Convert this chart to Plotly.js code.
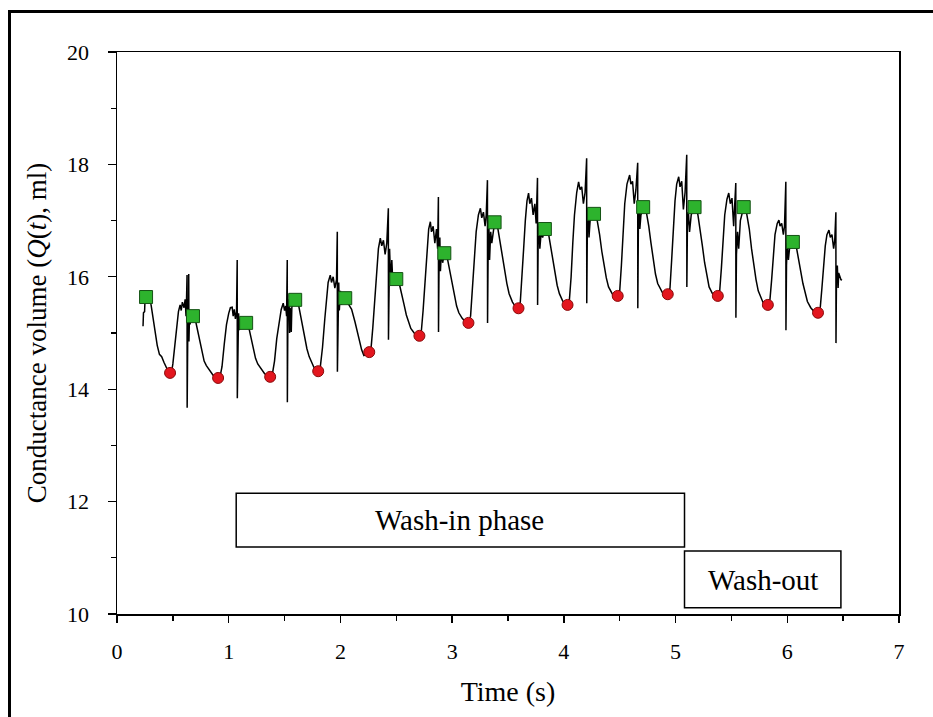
<!DOCTYPE html>
<html>
<head>
<meta charset="utf-8">
<script src="https://cdn.plot.ly/plotly-3.0.1.min.js"></script>
<style>
  html, body { margin: 0; padding: 0; background: #fff; }
  #chart { position: absolute; left: 0; top: 0; width: 933px; height: 717px; }
  #frame { position: absolute; left: 8px; top: 10px; width: 925px; height: 707px;
           border-top: 3px solid #000; border-left: 3px solid #000; pointer-events: none; }
</style>
</head>
<body>
<div id="chart"></div>
<div id="frame"></div>
<script>
// Conductance volume trace (time in s, volume in ml)
const traceTime = [
  0.233,0.237,0.247,0.250,0.262,0.290,0.300,
  0.305,0.320,0.340,0.360,0.380,0.400,0.420,0.440,0.460,0.475,
  0.490,0.500,0.520,0.535,0.550,0.565,
  0.575,0.585,0.600,0.610,0.618,0.622,0.627,0.628,0.632,0.636,0.640,0.642,0.644,0.650,0.655,0.660,0.668,0.681,0.695,0.705,
  0.720,0.740,0.760,0.780,0.800,0.830,0.860,0.885,0.905,
  0.925,0.940,0.960,0.980,1.000,1.015,1.031,
  1.040,1.050,1.060,1.070,1.076,1.077,1.082,1.088,1.095,1.105,1.120,1.135,1.156,1.175,1.185,
  1.200,1.220,1.240,1.260,1.290,1.320,1.350,1.371,
  1.390,1.410,1.430,1.450,1.470,1.488,
  1.500,1.510,1.518,1.524,1.525,1.530,1.540,1.545,1.550,1.560,1.565,1.575,1.595,1.615,1.625,
  1.640,1.660,1.680,1.700,1.720,1.740,1.760,1.780,1.801,
  1.820,1.840,1.860,1.875,1.890,1.909,
  1.920,1.935,1.950,1.965,1.972,1.973,1.978,1.985,1.990,2.000,2.010,2.020,2.043,2.060,2.070,
  2.100,2.130,2.160,2.190,2.210,2.235,2.258,
  2.275,2.290,2.310,2.325,2.340,2.357,
  2.370,2.385,2.400,2.415,2.429,2.430,2.435,2.440,2.450,2.460,2.470,2.480,2.500,2.520,2.530,
  2.550,2.570,2.590,2.610,2.630,2.660,2.685,2.707,
  2.725,2.740,2.760,2.775,2.790,2.805,
  2.815,2.830,2.845,2.860,2.870,2.877,2.878,2.883,2.890,2.895,2.905,2.915,2.930,2.950,2.960,
  2.980,3.000,3.020,3.040,3.060,3.090,3.120,3.146,
  3.165,3.180,3.200,3.215,3.235,3.253,
  3.265,3.280,3.295,3.305,3.316,3.317,3.322,3.328,3.335,3.345,3.355,3.380,3.400,3.410,
  3.430,3.450,3.470,3.490,3.510,3.540,3.570,3.594,
  3.610,3.625,3.640,3.655,3.670,3.684,
  3.695,3.710,3.725,3.740,3.752,3.764,3.765,3.770,3.778,3.785,3.795,3.810,3.830,3.845,3.860,
  3.880,3.900,3.920,3.940,3.960,3.990,4.015,4.033,
  4.050,4.065,4.080,4.095,4.115,4.132,
  4.145,4.160,4.175,4.190,4.204,4.205,4.210,4.218,4.225,4.235,4.250,4.270,4.290,4.300,
  4.320,4.340,4.360,4.380,4.400,4.430,4.460,4.482,
  4.500,4.515,4.530,4.545,4.565,4.589,
  4.600,4.615,4.630,4.645,4.661,4.662,4.667,4.675,4.680,4.690,4.710,4.730,4.740,
  4.760,4.780,4.800,4.820,4.840,4.870,4.900,4.930,
  4.950,4.965,4.980,4.995,5.010,5.028,
  5.040,5.055,5.070,5.085,5.100,5.101,5.106,5.115,5.125,5.140,5.155,5.170,5.190,5.200,
  5.220,5.240,5.260,5.280,5.300,5.330,5.355,5.378,
  5.395,5.410,5.425,5.440,5.460,5.476,
  5.490,5.505,5.520,5.530,5.539,5.540,5.545,5.555,5.565,5.580,5.595,5.610,5.630,5.640,
  5.660,5.680,5.700,5.720,5.740,5.770,5.800,5.826,
  5.845,5.860,5.875,5.890,5.910,5.925,
  5.935,5.950,5.965,5.975,5.987,5.988,5.993,6.000,6.010,6.020,6.035,6.050,6.065,6.075,
  6.100,6.120,6.140,6.160,6.180,6.210,6.245,6.275,
  6.295,6.310,6.325,6.340,6.355,6.373,
  6.385,6.400,6.415,6.425,6.435,6.436,6.440,6.448,6.455,6.460,6.470,6.480,6.490
];
const traceVolume = [
  15.12,15.36,15.38,15.55,15.62,15.60,15.58,
  15.50,15.30,15.02,14.78,14.62,14.58,14.48,14.38,14.31,14.29,
  14.32,14.45,14.85,15.20,15.38,15.50,
  15.40,15.55,15.45,15.60,15.30,15.55,16.03,13.67,15.20,15.60,15.05,16.05,14.85,15.40,15.15,15.35,15.25,15.30,15.28,15.20,
  15.05,14.85,14.65,14.50,14.42,14.33,14.25,14.21,14.20,
  14.25,14.40,14.80,15.15,15.35,15.45,15.46,
  15.30,15.42,15.25,15.38,16.30,13.84,15.00,15.35,15.05,15.25,15.10,15.20,15.18,15.15,15.05,
  14.92,14.70,14.55,14.45,14.36,14.28,14.23,14.22,
  14.26,14.50,14.90,15.20,15.42,15.53,
  15.40,15.48,15.30,16.30,13.77,15.40,15.60,15.00,15.45,15.02,15.45,15.55,15.59,15.58,15.50,
  15.35,15.12,14.90,14.72,14.58,14.48,14.40,14.34,14.32,
  14.40,14.75,15.25,15.60,15.90,16.03,
  15.90,16.00,15.80,15.95,16.80,14.31,15.60,15.90,15.40,15.75,15.50,15.70,15.62,15.60,15.52,
  15.42,15.20,14.93,14.70,14.60,14.62,14.66,
  14.75,15.10,15.60,16.10,16.50,16.69,
  16.55,16.65,16.40,16.60,17.22,14.88,16.20,16.50,15.90,16.30,15.85,16.05,15.96,15.95,15.85,
  15.70,15.50,15.32,15.18,15.08,15.00,14.96,14.95,
  15.05,15.40,16.00,16.50,16.85,16.98,
  16.80,16.90,16.60,16.85,16.50,17.42,15.02,16.30,16.70,16.10,16.50,16.25,16.42,16.40,16.30,
  16.10,15.88,15.65,15.48,15.36,15.26,15.20,15.18,
  15.30,15.70,16.30,16.80,17.10,17.22,
  17.05,17.15,16.90,17.10,17.72,15.18,16.40,17.00,16.30,16.80,16.60,16.97,16.95,16.85,
  16.60,16.35,16.10,15.88,15.70,15.55,15.46,15.44,
  15.55,15.95,16.50,17.00,17.35,17.49,
  17.30,17.40,17.10,17.30,16.95,17.76,15.50,16.60,16.90,16.50,16.75,16.70,16.85,16.90,16.80,
  16.55,16.30,16.05,15.85,15.70,15.57,15.52,15.50,
  15.60,16.00,16.60,17.10,17.50,17.69,
  17.55,17.60,17.30,17.50,18.11,15.53,16.80,17.20,16.70,17.00,17.05,17.12,17.10,17.00,
  16.75,16.45,16.20,15.98,15.82,15.70,15.60,15.66,
  15.75,16.20,16.80,17.30,17.65,17.81,
  17.65,17.70,17.30,17.55,18.03,15.44,16.90,17.30,16.85,17.10,17.24,17.25,17.15,
  16.90,16.60,16.30,16.05,15.88,15.75,15.65,15.69,
  15.80,16.30,16.90,17.35,17.65,17.78,
  17.60,17.70,17.20,17.50,18.17,15.82,16.90,17.15,16.80,17.10,17.20,17.24,17.20,17.10,
  16.85,16.55,16.25,16.00,15.82,15.70,15.63,15.66,
  15.75,16.15,16.70,17.10,17.38,17.49,
  17.30,17.40,16.90,17.20,17.67,15.27,16.40,16.80,16.50,17.00,17.15,17.24,17.20,17.10,
  16.85,16.50,16.20,15.95,15.75,15.60,15.46,15.50,
  15.60,15.95,16.40,16.75,16.95,17.01,
  16.90,16.95,16.75,16.90,17.69,15.05,16.20,16.60,16.30,16.50,16.60,16.62,16.70,16.60,
  16.35,16.10,15.88,15.70,15.56,15.45,15.37,15.36,
  15.45,15.80,16.20,16.55,16.75,16.83,
  16.70,16.75,16.50,16.65,17.15,14.82,15.90,16.20,15.80,16.07,16.00,15.95,15.94
];

// End-diastolic points (green squares)
const peakTime   = [0.26, 0.68, 1.156, 1.595, 2.043, 2.50, 2.93, 3.38, 3.83, 4.27, 4.71, 5.17, 5.61, 6.05];
const peakVolume = [15.64, 15.30, 15.18, 15.59, 15.62, 15.96, 16.42, 16.97, 16.85, 17.12, 17.24, 17.24, 17.24, 16.62];

// End-systolic points (red circles)
const troughTime   = [0.475, 0.905, 1.371, 1.801, 2.258, 2.707, 3.146, 3.594, 4.033, 4.482, 4.930, 5.378, 5.826, 6.275];
const troughVolume = [14.29, 14.20, 14.22, 14.32, 14.66, 14.95, 15.18, 15.44, 15.50, 15.66, 15.69, 15.66, 15.50, 15.36];

const xTickVals = [0, 1, 2, 3, 4, 5, 6, 7];
const yTickVals = [10, 12, 14, 16, 18, 20];

const serif = 'Liberation Serif';

const traces = [
  { x: traceTime, y: traceVolume, type: 'scatter', mode: 'lines',
    line: { color: '#000', width: 1.5 }, hoverinfo: 'skip' },
  { x: troughTime, y: troughVolume, type: 'scatter', mode: 'markers',
    marker: { symbol: 'circle', size: 11, color: '#e3161e', line: { color: '#8a0a0a', width: 1 } } },
  { x: peakTime, y: peakVolume, type: 'scatter', mode: 'markers',
    marker: { symbol: 'square', size: 13, color: '#2db32d', line: { color: '#145214', width: 1 } } }
];

const layout = {
  width: 933, height: 717,
  margin: { l: 117, r: 34, t: 52, b: 103 },
  paper_bgcolor: '#fff', plot_bgcolor: '#fff',
  showlegend: false,
  font: { family: serif, color: '#000', size: 20 },
  xaxis: {
    range: [0, 7], tickvals: xTickVals, ticks: 'outside', ticklen: 7, tickwidth: 1.3, tickcolor: '#000',
    minor: { dtick: 0.5, ticks: 'outside', ticklen: 5, tickcolor: '#000', tickwidth: 1.3 },
    showline: true, linecolor: '#000', linewidth: 1.5, mirror: true,
    showgrid: false, zeroline: false, ticklabelstandoff: 10,
    tickfont: { family: serif, size: 22, color: '#000' },
    title: { text: 'Time (s)', font: { family: serif, size: 28 }, standoff: 18 }
  },
  yaxis: {
    range: [10, 20], tickvals: yTickVals, ticks: 'outside', ticklen: 8, tickwidth: 1.3, tickcolor: '#000',
    minor: { dtick: 1, ticks: 'outside', ticklen: 5, tickcolor: '#000', tickwidth: 1.3 },
    showline: true, linecolor: '#000', linewidth: 1.5, mirror: true,
    showgrid: false, zeroline: false, ticklabelstandoff: 14,
    tickfont: { family: serif, size: 22, color: '#000' },
    title: { text: 'Conductance volume (<i>Q</i>(<i>t</i>), ml)', font: { family: serif, size: 27 }, standoff: 12 }
  },
  shapes: [
    { type: 'rect', xref: 'x', yref: 'y', x0: 1.067, x1: 5.08, y0: 11.19, y1: 12.15,
      line: { color: '#000', width: 1.5 }, fillcolor: '#fff', layer: 'above' },
    { type: 'rect', xref: 'x', yref: 'y', x0: 5.08, x1: 6.48, y0: 10.11, y1: 11.12,
      line: { color: '#000', width: 1.5 }, fillcolor: '#fff', layer: 'above' }
  ],
  annotations: [
    { text: 'Wash-in phase', x: 3.07, y: 11.67, xref: 'x', yref: 'y', showarrow: false,
      font: { family: serif, size: 29, color: '#000' } },
    { text: 'Wash-out', x: 5.78, y: 10.61, xref: 'x', yref: 'y', showarrow: false,
      font: { family: serif, size: 29, color: '#000' } }
  ]
};

Plotly.newPlot('chart', traces, layout, { displayModeBar: false, staticPlot: true });
</script>
</body>
</html>
